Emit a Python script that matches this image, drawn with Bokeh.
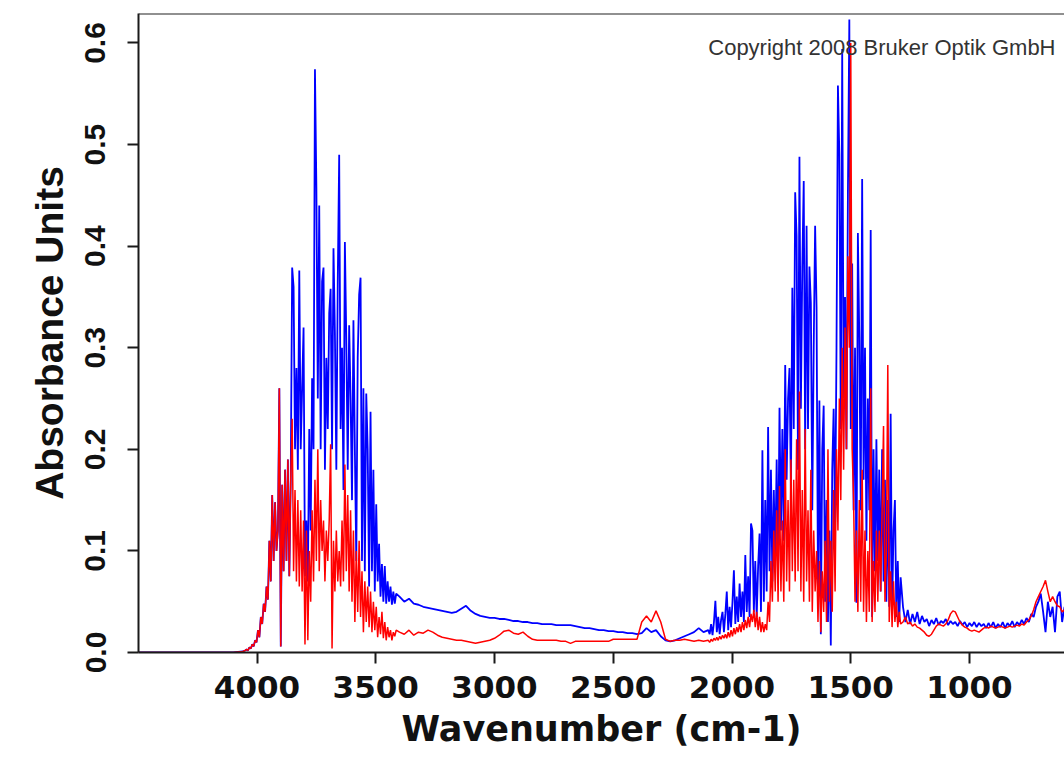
import numpy as np
from bokeh.plotting import figure
from bokeh.models import Range1d, FixedTicker, PrintfTickFormatter, Span, Label
from bokeh.embed import file_html
from bokeh.resources import INLINE

# ---------------- data ----------------
# spectrum is stored in segments: start wavenumber and sampling step (cm-1)
seg_start = [4500, 4050, 3400, 2100, 1280]
seg_step = [40, 6, 20, 6, 10]

x_ticks = [1000, 1500, 2000, 2500, 3000, 3500, 4000]
y_ticks = [0.0, 0.1, 0.2, 0.3, 0.4, 0.5, 0.6]

red_1 = [0.0, 0.0, 0.0, 0.0, 0.0, 0.0, 0.0, 0.0, 0.0, 0.0, 0.0, 0.001]
blue_1 = [0.0, 0.0, 0.0, 0.0, 0.0, 0.0, 0.0, 0.0, 0.0, 0.0, 0.0, 0.001]

red_2 = [0.002, 0.003, 0.002, 0.005, 0.004, 0.008, 0.006, 0.012, 0.010, 0.022,
         0.015, 0.035, 0.028, 0.048, 0.040, 0.065, 0.052, 0.110, 0.070, 0.155,
         0.090, 0.148, 0.100, 0.120, 0.260, 0.006, 0.165, 0.080, 0.180, 0.090,
         0.190, 0.075, 0.170, 0.230, 0.080, 0.160, 0.070, 0.150, 0.065, 0.140,
         0.060, 0.130, 0.008, 0.120, 0.012, 0.100, 0.050, 0.140, 0.070, 0.170,
         0.090, 0.200, 0.080, 0.150, 0.100, 0.130, 0.070, 0.120, 0.090, 0.130,
         0.205, 0.004, 0.110, 0.060, 0.120, 0.070, 0.100, 0.065, 0.130, 0.070,
         0.185, 0.080, 0.155, 0.060, 0.140, 0.050, 0.120, 0.030, 0.100, 0.040,
         0.110, 0.035, 0.080, 0.020, 0.070, 0.030, 0.065, 0.025, 0.060, 0.020,
         0.050, 0.022, 0.045, 0.015, 0.035, 0.018, 0.040, 0.014, 0.030, 0.012,
         0.025, 0.015, 0.022, 0.012, 0.020, 0.016, 0.022]

blue_2 = [0.002, 0.003, 0.002, 0.005, 0.004, 0.008, 0.006, 0.012, 0.010, 0.022,
          0.015, 0.035, 0.028, 0.048, 0.040, 0.065, 0.052, 0.110, 0.070, 0.155,
          0.090, 0.148, 0.100, 0.120, 0.260, 0.006, 0.165, 0.080, 0.180, 0.090,
          0.190, 0.075, 0.170,
          0.379, 0.360, 0.200, 0.280, 0.180, 0.376, 0.200, 0.260, 0.320, 0.075,
          0.130, 0.070, 0.220, 0.120, 0.270, 0.200, 0.574, 0.457, 0.250, 0.440,
          0.200, 0.365, 0.379, 0.180, 0.290, 0.220, 0.334, 0.358, 0.200, 0.398,
          0.314, 0.180, 0.365, 0.490, 0.220, 0.300, 0.160, 0.404, 0.307, 0.180,
          0.322, 0.250, 0.150, 0.327, 0.200, 0.090, 0.290, 0.352, 0.369, 0.090,
          0.260, 0.080, 0.255, 0.200, 0.065, 0.237, 0.080, 0.180, 0.060, 0.146,
          0.070, 0.107, 0.055, 0.087, 0.050, 0.085, 0.048, 0.070, 0.050, 0.065,
          0.047, 0.060, 0.048, 0.058]

red_3 = [0.020, 0.018, 0.022, 0.017, 0.020, 0.019, 0.022, 0.020, 0.017, 0.015,
         0.014, 0.013, 0.012, 0.012, 0.011, 0.010, 0.009, 0.010, 0.011, 0.012,
         0.014, 0.017, 0.021, 0.022, 0.019, 0.018, 0.020, 0.016, 0.013, 0.012,
         0.012, 0.012, 0.012, 0.012, 0.011, 0.011, 0.009, 0.011, 0.011, 0.011,
         0.011, 0.011, 0.011, 0.011, 0.011, 0.013, 0.013, 0.013, 0.013, 0.013,
         0.013, 0.030, 0.036, 0.030, 0.041, 0.030, 0.013, 0.011, 0.012, 0.012,
         0.013, 0.012, 0.011, 0.012, 0.011]

blue_3 = [0.055, 0.050, 0.053, 0.048, 0.047, 0.045, 0.044, 0.043, 0.042, 0.041,
          0.040, 0.039, 0.040, 0.043, 0.046, 0.041, 0.038, 0.036, 0.035, 0.034,
          0.034, 0.033, 0.033, 0.032, 0.031, 0.031, 0.030, 0.030, 0.029, 0.029,
          0.028, 0.028, 0.028, 0.027, 0.027, 0.027, 0.027, 0.026, 0.025, 0.024,
          0.024, 0.023, 0.022, 0.022, 0.021, 0.021, 0.020, 0.020, 0.019, 0.019,
          0.018, 0.019, 0.024, 0.020, 0.022, 0.016, 0.012, 0.011, 0.012, 0.014,
          0.016, 0.018, 0.020, 0.024, 0.020]

red_4 = [0.012, 0.010, 0.013, 0.011, 0.014, 0.012, 0.015, 0.012, 0.016, 0.013,
         0.017, 0.014, 0.018, 0.014, 0.020, 0.015, 0.022, 0.016, 0.024, 0.018,
         0.025, 0.020, 0.028, 0.020, 0.030, 0.022, 0.032, 0.024, 0.035, 0.025,
         0.038, 0.030, 0.042, 0.025, 0.040, 0.022, 0.035, 0.020, 0.030, 0.020,
         0.028, 0.022, 0.050, 0.030, 0.090, 0.050, 0.120, 0.060, 0.140, 0.050,
         0.164, 0.060, 0.130, 0.050, 0.200, 0.070, 0.150, 0.060, 0.190, 0.080,
         0.170, 0.070, 0.210, 0.080, 0.257, 0.060, 0.160, 0.050, 0.220, 0.070,
         0.140, 0.050, 0.180, 0.040, 0.120, 0.060, 0.100, 0.030, 0.090, 0.020,
         0.080, 0.040, 0.110, 0.030, 0.200, 0.050, 0.110, 0.040, 0.160, 0.060,
         0.200, 0.120, 0.250, 0.150, 0.300, 0.180, 0.320, 0.200, 0.390, 0.300,
         0.600, 0.200, 0.150, 0.050, 0.120, 0.040, 0.150, 0.050, 0.180, 0.040,
         0.120, 0.030, 0.100, 0.040, 0.260, 0.030, 0.090, 0.040, 0.120, 0.050,
         0.120, 0.060, 0.140, 0.223, 0.050, 0.100, 0.283, 0.030, 0.080, 0.025,
         0.070, 0.030, 0.050, 0.025, 0.040, 0.028]

blue_4 = [0.022, 0.018, 0.028, 0.017, 0.030, 0.051, 0.020, 0.035, 0.018, 0.032,
          0.040, 0.020, 0.038, 0.060, 0.022, 0.045, 0.025, 0.050, 0.081, 0.028,
          0.055, 0.030, 0.068, 0.035, 0.060, 0.030, 0.096, 0.040, 0.075, 0.035,
          0.127, 0.120, 0.040, 0.090, 0.035, 0.085, 0.117, 0.040, 0.199, 0.050,
          0.150, 0.060, 0.222, 0.080, 0.180, 0.070, 0.160, 0.090, 0.190, 0.080,
          0.241, 0.120, 0.220, 0.110, 0.283, 0.170, 0.250, 0.280, 0.160, 0.359,
          0.220, 0.453, 0.410, 0.180, 0.488, 0.240, 0.380, 0.464, 0.200, 0.420,
          0.220, 0.380, 0.344, 0.140, 0.300, 0.420, 0.340, 0.060, 0.248, 0.018,
          0.200, 0.243, 0.050, 0.150, 0.030, 0.120, 0.007, 0.180, 0.240, 0.120,
          0.300, 0.558, 0.490, 0.220, 0.594, 0.250, 0.350, 0.200, 0.450, 0.623,
          0.220, 0.383, 0.140, 0.300, 0.049, 0.413, 0.310, 0.140, 0.466, 0.170,
          0.300, 0.110, 0.250, 0.140, 0.416, 0.035, 0.200, 0.080, 0.210, 0.090,
          0.180, 0.060, 0.200, 0.070, 0.170, 0.050, 0.150, 0.045, 0.235, 0.040,
          0.120, 0.150, 0.035, 0.090, 0.030, 0.074]

red_5 = [0.030, 0.035, 0.028, 0.030, 0.026, 0.028, 0.025, 0.024, 0.022, 0.020,
         0.017, 0.016, 0.018, 0.022, 0.026, 0.028, 0.027, 0.026, 0.028, 0.032,
         0.038, 0.041, 0.040, 0.035, 0.030, 0.027, 0.025, 0.024, 0.022, 0.021,
         0.022, 0.021, 0.020, 0.022, 0.024, 0.025, 0.024, 0.026, 0.025, 0.024,
         0.025, 0.026, 0.025, 0.024, 0.025, 0.026, 0.025, 0.026, 0.027, 0.026,
         0.028, 0.027, 0.030, 0.032, 0.036, 0.042, 0.050, 0.055, 0.060, 0.065,
         0.071, 0.060, 0.050, 0.055, 0.050, 0.046, 0.045, 0.040, 0.042]

blue_5 = [0.045, 0.030, 0.042, 0.028, 0.038, 0.030, 0.040, 0.028, 0.036, 0.030,
          0.033, 0.026, 0.032, 0.028, 0.034, 0.027, 0.031, 0.029, 0.033, 0.027,
          0.031, 0.028, 0.030, 0.026, 0.031, 0.027, 0.030, 0.025, 0.029, 0.026,
          0.030, 0.025, 0.029, 0.026, 0.028, 0.024, 0.029, 0.025, 0.030, 0.024,
          0.028, 0.025, 0.030, 0.024, 0.029, 0.026, 0.031, 0.025, 0.030, 0.027,
          0.032, 0.028, 0.034, 0.030, 0.038, 0.035, 0.045, 0.050, 0.058, 0.040,
          0.020, 0.050, 0.035, 0.045, 0.020, 0.055, 0.060, 0.030, 0.045]

red_segments = [red_1, red_2, red_3, red_4, red_5]
blue_segments = [blue_1, blue_2, blue_3, blue_4, blue_5]


def build(segments):
    xs, ys = [], []
    for start, step, vals in zip(seg_start, seg_step, segments):
        for i, v in enumerate(vals):
            xs.append(start - step * i)
            ys.append(v)
    return xs, ys


bx, by = build(blue_segments)
rx, ry = build(red_segments)

# ---------------- figure ----------------
p = figure(width=1064, height=767, output_backend="svg", toolbar_location=None,
           x_range=Range1d(4499, 600), y_range=Range1d(0, 0.629),
           min_border_left=138, min_border_right=0, min_border_top=13,
           min_border_bottom=115)
p.outline_line_color = None
p.xgrid.visible = False
p.ygrid.visible = False
p.background_fill_color = "white"
p.border_fill_color = "white"

p.line(bx, by, line_color="#0000FF", line_width=1.8)
p.line(rx, ry, line_color="#FF0000", line_width=1.5)

# top frame line
p.add_layout(Span(location=0.629, dimension="width", line_color="#222222",
                  line_width=2))

axis_col = "#1a1a1a"
for ax in (p.xaxis[0], p.yaxis[0]):
    ax.axis_line_color = axis_col
    ax.axis_line_width = 2
    ax.major_tick_line_color = axis_col
    ax.major_tick_line_width = 2
    ax.major_tick_out = 11
    ax.major_tick_in = 0
    ax.minor_tick_out = 0
    ax.minor_tick_in = 0
    ax.major_label_text_color = "#111111"
    ax.axis_label_text_color = "#111111"
    ax.major_label_text_font_style = "bold"
    ax.axis_label_text_font_style = "bold"

p.xaxis.ticker = FixedTicker(ticks=x_ticks)
p.xaxis.major_label_text_font = "DejaVu Sans"
p.xaxis.major_label_text_font_size = "31px"
p.xaxis.major_label_standoff = 12
p.xaxis.axis_label = "Wavenumber (cm-1)"
p.xaxis.axis_label_text_font = "DejaVu Sans"
p.xaxis.axis_label_text_font_size = "35px"
p.xaxis.axis_label_standoff = 8

p.yaxis.ticker = FixedTicker(ticks=y_ticks)
p.yaxis.formatter = PrintfTickFormatter(format="%.1f")
p.yaxis.major_label_orientation = "vertical"
p.yaxis.major_label_text_font = "Liberation Sans"
p.yaxis.major_label_text_font_size = "30px"
p.yaxis.major_label_standoff = 22
p.yaxis.axis_label = "Absorbance Units"
p.yaxis.axis_label_text_font = "Liberation Sans"
p.yaxis.axis_label_text_font_size = "39px"
p.yaxis.axis_label_standoff = 12

p.add_layout(Label(x=2100, y=0.596, text="Copyright 2008 Bruker Optik GmbH",
                   text_font="Liberation Sans", text_font_size="22px",
                   text_color="#333333", text_align="left",
                   text_baseline="alphabetic"))

open("out.html", "w").write(file_html(p, INLINE))
